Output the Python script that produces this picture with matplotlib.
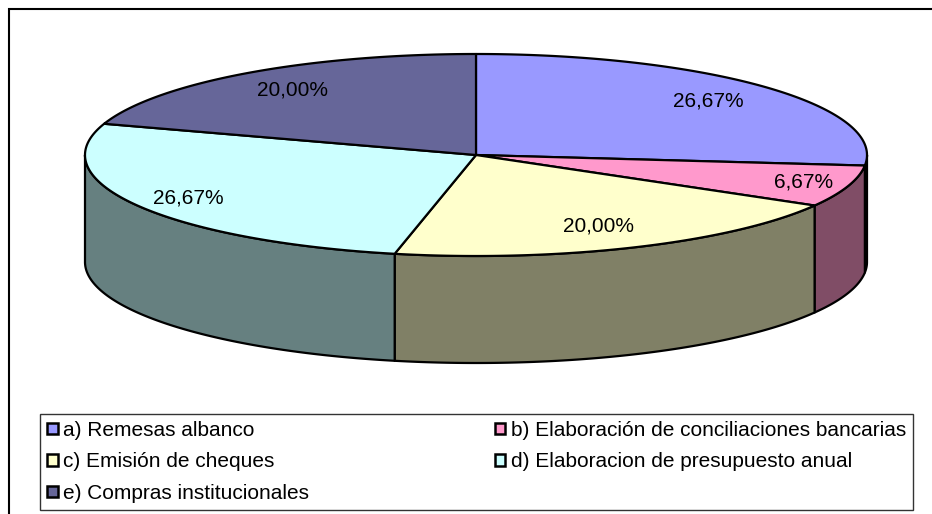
import numpy as np
import matplotlib.pyplot as plt
from matplotlib.patches import Polygon, Patch, Rectangle

plt.rcParams['font.family'] = ['Liberation Sans', 'DejaVu Sans']

# --- DATI ---
categories = ['a) Remesas albanco',
              'b) Elaboración de conciliaciones bancarias',
              'c) Emisión de cheques',
              'd) Elaboracion de presupuesto anual',
              'e) Compras institucionales']
values = [26.67, 6.67, 20.00, 26.67, 20.00]
top_colors = ['#9999FF', '#FF99CC', '#FFFFCC', '#CCFFFF', '#666699']

# --- GEOMETRIA (pixel) ---
W, H = 932, 514
cx, cy, rx, ry, depth = 476, 155, 391, 101, 107
label_r = [0.80, 0.88, 0.77, 0.85, 0.80]


def darker(hexcol, k=0.5):
    r, g, b = (int(hexcol[i:i + 2], 16) / 255 for i in (1, 3, 5))
    return (r * k, g * k, b * k)


def arc(t1, t2, dy=0, n=200):
    t = np.radians(np.linspace(t1, t2, n))
    return np.column_stack([cx + rx * np.cos(t), cy - ry * np.sin(t) + dy])


fig = plt.figure(figsize=(W / 100, H / 100), dpi=100)
ax = fig.add_axes([0, 0, 1, 1])
ax.set_xlim(0, W)
ax.set_ylim(H, 0)
ax.axis('off')

frac = np.array(values) / sum(values)
bounds = 90 - 360 * np.concatenate([[0], np.cumsum(frac)])

# lati visibili (meta frontale dell'ellisse)
for i in range(len(values)):
    t1, t2 = bounds[i], bounds[i + 1]
    hi, lo = min(t1, 0), max(t2, -180)
    if hi > lo:
        poly = np.vstack([arc(hi, lo), arc(lo, hi, depth)])
        ax.add_patch(Polygon(poly, closed=True, facecolor=darker(top_colors[i]),
                             edgecolor='black', lw=1.6, joinstyle='round'))

# superficie superiore
for i in range(len(values)):
    t1, t2 = bounds[i], bounds[i + 1]
    poly = np.vstack([[cx, cy], arc(t1, t2)])
    ax.add_patch(Polygon(poly, closed=True, facecolor=top_colors[i],
                         edgecolor='black', lw=1.6, joinstyle='round'))
    mid = np.radians((t1 + t2) / 2)
    f = label_r[i]
    ax.text(cx + rx * f * np.cos(mid), cy - ry * f * np.sin(mid),
            f'{values[i]:.2f}%'.replace('.', ','),
            ha='center', va='center', fontsize=15)

# cornice esterna
fig.patches.append(Rectangle((8.5 / W, -0.1), 2, (H - 8.5) / H + 0.1,
                             transform=fig.transFigure, fill=False,
                             edgecolor='black', lw=1.5))

# legenda
handles = [Patch(facecolor=c, edgecolor='black', lw=1.8, label=l)
           for c, l in zip(top_colors, categories)]
order = [0, 2, 4, 1, 3]
leg = fig.legend(handles=[handles[i] for i in order], loc='lower left',
                 bbox_to_anchor=(40 / W, 4 / H, 873 / W, 99 / H), mode='expand',
                 ncol=2, fontsize=15, frameon=True, fancybox=False,
                 edgecolor='black', handlelength=0.5, handleheight=0.5,
                 handletextpad=0.25, labelspacing=0.6, borderpad=0.34,
                 borderaxespad=0)
leg.get_frame().set_linewidth(1.0)

fig.savefig('out.png', dpi=100)
